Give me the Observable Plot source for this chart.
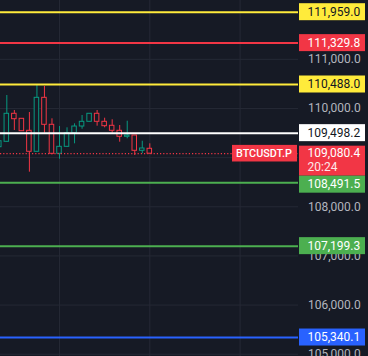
<!DOCTYPE html>
<html>
<head>
<meta charset="utf-8">
<script src="https://cdn.jsdelivr.net/npm/d3@7"></script>
<script src="https://cdn.jsdelivr.net/npm/@observablehq/plot@0.6"></script>
<style>
  html, body { margin: 0; padding: 0; background: #161a25; }
  #chart svg { display: block; }
</style>
</head>
<body>
<div id="chart"></div>
<script>
// ---- data ----
const symbol = "BTCUSDT.P";
const countdown = "20:24";
const candleOpen  = [109212, 109322, 109892, 109790, 109546, 109119, 110217, 109668, 109078, 109220, 109497, 109633, 109729, 109892, 109729, 109648, 109546, 109424, 109450, 109139, 109180];
const candleHigh  = [109334, 110264, 109959, 109790, 109918, 110488, 110447, 109790, 109633, 109607, 109688, 109857, 109892, 109959, 109802, 109770, 109654, 109741, 109450, 109334, 109281];
const candleLow   = [109212, 109314, 109552, 109538, 108704, 109111, 109497, 109058, 108968, 109212, 109281, 109578, 109729, 109640, 109607, 109497, 109314, 109383, 109043, 109078, 109070];
const candleClose = [109334, 109892, 109782, 109538, 109119, 110217, 109668, 109078, 109220, 109497, 109633, 109729, 109892, 109729, 109640, 109546, 109424, 109450, 109139, 109186, 109080.4];
const levelValues = [111959.0, 111329.8, 110488.0, 109498.2, 108491.5, 107199.3, 105340.1];
const priceTicks  = [105000, 106000, 107000, 108000, 109000, 110000, 111000];
const hourTicks   = [8, 20, 32];

// ---- styles ----
const BG = "#161a25", GRID = "#252935", UP = "#089981", DOWN = "#f23645";
const levelStroke = ["#ffeb3b", "#f23645", "#ffeb3b", "#ffffff", "#4caf50", "#4caf50", "#2962ff"];
const levelText   = ["#131722", "#ffffff", "#131722", "#131722", "#ffffff", "#ffffff", "#ffffff"];

const candles = candleOpen.map((o, i) => ({i, open: o, high: candleHigh[i], low: candleLow[i], close: candleClose[i]}));
const levels = levelValues.map((v, i) => ({v, stroke: levelStroke[i], text: levelText[i]}));
const last = candleClose[candleClose.length - 1];
const col = d => d.close >= d.open ? UP : DOWN;
const fmt = d3.format(",.1f");

const chart = Plot.plot({
  width: 368, height: 356,
  marginLeft: 0, marginRight: 70, marginTop: 0, marginBottom: 0,
  style: {background: BG, fontFamily: "Roboto, sans-serif", fontSize: "12px", color: "#b2b5be"},
  x: {domain: [0.16, 39.76], axis: null},
  y: {domain: [104954, 112197], axis: null},
  color: {type: "identity"},
  marks: [
    Plot.ruleY(priceTicks, {stroke: GRID}),
    Plot.ruleX(hourTicks, {stroke: GRID}),
    Plot.axisY(priceTicks, {anchor: "right", tickSize: 0, tickPadding: 9.5, tickFormat: fmt, fill: "#b2b5be"}),
    Plot.ruleX(candles, {x: "i", y1: "low", y2: "high", stroke: col}),
    Plot.rect(candles, {x1: d => d.i - 0.3, x2: d => d.i + 0.3, y1: "open", y2: "close", fill: BG, stroke: col}),
    Plot.ruleY([last], {stroke: DOWN, strokeDasharray: "1.2,2", strokeWidth: 1.2}),
    Plot.ruleY(levels, {y: "v", stroke: "stroke", strokeWidth: 2})
  ]
});
document.getElementById("chart").appendChild(chart);

// ---- price-scale labels placed with the plot's y scale ----
const ys = chart.scale("y");
const svg = d3.select(chart);
const g = svg.append("g").attr("font-family", "Roboto, sans-serif").attr("font-size", 12).attr("text-anchor", "start");
const boxX = 299, boxW = 66, boxH = 17, textX = 307.5;

const items = levels.map(d => ({y: ys.apply(d.v), v: d.v, fill: d.stroke, text: d.text, top: ys.apply(d.v) - boxH / 2, h: boxH}));
const py = ys.apply(last);
items.push({y: py, v: last, fill: DOWN, text: "#ffffff", top: py - 7.5, h: 30, price: true});
items.sort((a, b) => a.top - b.top);
let prevBottom = -Infinity;
for (const it of items) {
  if (it.top < prevBottom) it.top = prevBottom;
  prevBottom = it.top + it.h;
}
for (const it of items) {
  g.append("rect").attr("x", boxX).attr("y", it.top).attr("width", boxW).attr("height", it.h).attr("fill", it.fill);
  if (it.price) {
    g.append("text").attr("x", textX).attr("y", it.top + 7.5).attr("dy", "0.35em").attr("fill", it.text).text(fmt(it.v));
    g.append("text").attr("x", textX).attr("y", it.top + 20.9).attr("dy", "0.35em").attr("fill", "#fde8ea").text(countdown);
  } else {
    g.append("text").attr("x", textX).attr("y", it.top + it.h / 2).attr("dy", "0.35em").attr("fill", it.text).text(fmt(it.v));
  }
}
// symbol tag on the last-price line
g.append("rect").attr("x", 232).attr("y", py - 8.3).attr("width", 65).attr("height", 16.6).attr("fill", DOWN);
g.append("text").attr("x", 236).attr("y", py).attr("dy", "0.35em").attr("fill", "#ffffff")
  .attr("font-size", 10.8).attr("font-weight", 500).text(symbol);
</script>
</body>
</html>
